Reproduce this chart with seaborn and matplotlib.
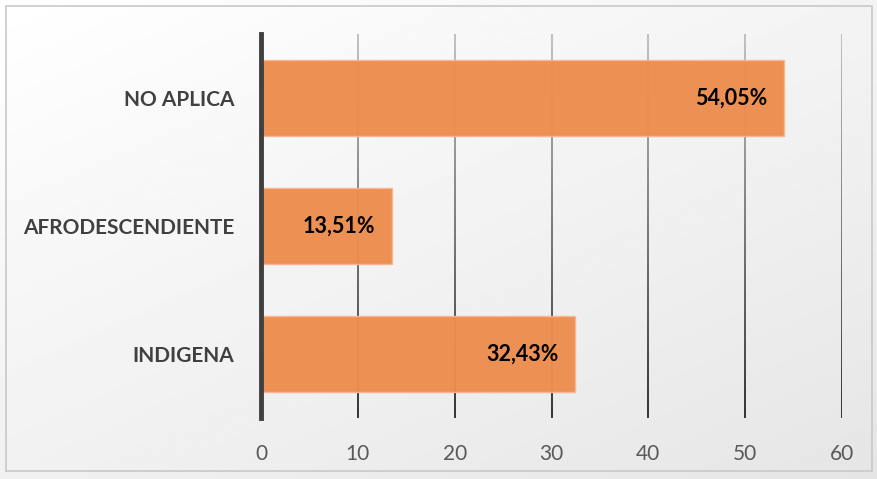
import numpy as np
import pandas as pd
import matplotlib
matplotlib.use("Agg")
import matplotlib.pyplot as plt
import seaborn as sns

# data
categories = ["NO APLICA", "AFRODESCENDIENTE", "INDIGENA"]
values = [54.05, 13.51, 32.43]
bar_labels = ["54,05%", "13,51%", "32,43%"]
x_ticks = [0, 10, 20, 30, 40, 50, 60]

df = pd.DataFrame({"categoria": categories, "valor": values})

sns.set_style("white")
plt.rcParams["font.family"] = ["Lato", "DejaVu Sans"]

fig = plt.figure(figsize=(8.77, 4.79), dpi=100)

# soft gradient background with thin border
bg = fig.add_axes([0, 0, 1, 1], zorder=-10)
yy, xx = np.mgrid[0:1:200j, 0:1:200j]
grad = 1.0 - 0.10 * (0.45 * xx + 0.55 * yy)
bg.imshow(grad, cmap="gray", vmin=0, vmax=1, extent=[0, 1, 0, 1],
          origin="upper", aspect="auto")
bg.add_patch(plt.Rectangle((6 / 877, 8 / 479), 866 / 877, 465 / 479,
                           fill=False, edgecolor="#c8c8c8", linewidth=1.2,
                           transform=bg.transAxes))
bg.set_xlim(0, 1)
bg.set_ylim(0, 1)
bg.axis("off")

ax = fig.add_axes([261 / 877, 1 - 418 / 479, 581 / 877, 384 / 479])
ax.patch.set_alpha(0)

sns.barplot(data=df, x="valor", y="categoria", orient="h", ax=ax,
            color="#ED8D4E", saturation=1, width=0.59,
            edgecolor="#F6B890", linewidth=1.0, zorder=3)
for p in ax.patches:
    p.set_alpha(0.97)

ax.set_xlim(0, 60)
ax.set_xticks(x_ticks)
ax.set_xlabel("")
ax.set_ylabel("")

# vertical gridlines, fading from light grey at top to dark at bottom
ylo, yhi = ax.get_ylim()  # categorical axis is inverted: ylo is bottom
nseg = 40
edges = np.linspace(ylo, yhi, nseg + 1)
for t in x_ticks[1:]:
    for i in range(nseg):
        f = i / (nseg - 1)  # 0 bottom, 1 top
        g = 0.20 + 0.55 * f
        ax.plot([t, t], [edges[i], edges[i + 1]], color=(g, g, g),
                linewidth=1.4, solid_capstyle="butt", zorder=1)
ax.set_ylim(ylo, yhi)

for s in ["top", "right", "bottom"]:
    ax.spines[s].set_visible(False)
ax.spines["left"].set_color("#404040")
ax.spines["left"].set_linewidth(3.5)
ax.spines["left"].set_zorder(5)

ax.tick_params(axis="x", length=0, pad=19, labelsize=15, labelcolor="#595959")
ax.tick_params(axis="y", length=0, pad=19, labelsize=15, labelcolor="#404040")
for lbl in ax.get_yticklabels():
    lbl.set_fontweight("bold")

for p, txt in zip(ax.patches, bar_labels):
    x_end = p.get_x() + p.get_width()
    yc = p.get_y() + p.get_height() / 2
    ax.annotate(txt, (x_end, yc), xytext=(-12, 0), textcoords="offset points",
                ha="right", va="center", fontsize=15.5, fontweight="bold",
                color="black", zorder=6)

fig.savefig("out.png", dpi=100)
